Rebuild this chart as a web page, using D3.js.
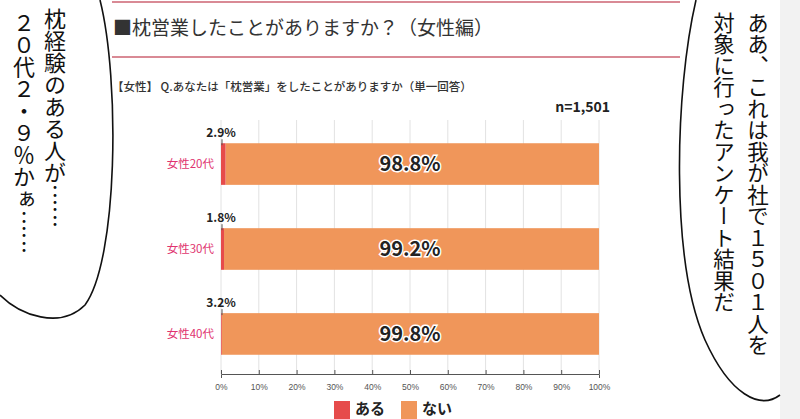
<!DOCTYPE html>
<html><head><meta charset="utf-8">
<script src="https://cdn.jsdelivr.net/npm/d3@7"></script>
<style>body{margin:0;background:#fff}svg{display:block;font-family:"Noto Sans CJK JP","Noto Sans",sans-serif}</style>
</head><body><svg id="c" width="800" height="419"></svg>
<script>
const categories = ["女性20代","女性30代","女性40代"];
const aruValues = [1.2, 0.8, 0.2];
const naiValues = [98.8, 99.2, 99.8];
const aruLabels = ["2.9%","1.8%","3.2%"];
const naiLabels = ["98.8%","99.2%","99.8%"];
const tickValues = [0,10,20,30,40,50,60,70,80,90,100];
const legendLabels = ["ある","ない"];

const svg = d3.select("#c");
const red = "#e64b4b", orange = "#f0965a", pink = "#e0346f";

svg.append("rect").attr("x",780).attr("y",0).attr("width",20).attr("height",419).attr("fill","#f2f2f2");

svg.append("line").attr("x1",112).attr("x2",680).attr("y1",2).attr("y2",2).attr("stroke","#d98a95").attr("stroke-width",2);
svg.append("line").attr("x1",112).attr("x2",680).attr("y1",57).attr("y2",57).attr("stroke","#d98a95").attr("stroke-width",2);
svg.append("text").attr("x",113).attr("y",35).attr("font-size",19).attr("fill","#333").text("■枕営業したことがありますか？（女性編）");
svg.append("text").attr("x",112).attr("y",91).attr("font-size",11.5).attr("font-weight","500").attr("fill","#333").text("【女性】 Q.あなたは「枕営業」をしたことがありますか（単一回答）");
svg.append("text").attr("x",610).attr("y",112).attr("text-anchor","end").attr("font-size",14).attr("font-weight","bold").attr("fill","#222").text("n=1,501");

const x = d3.scaleLinear().domain([0,100]).range([221,599]);
const y = d3.scaleBand().domain(categories).range([122,376]).paddingInner(0.51).paddingOuter(0.25);

svg.append("g").selectAll("line").data(tickValues).join("line")
  .attr("x1",d=>x(d)).attr("x2",d=>x(d)).attr("y1",120).attr("y2",374)
  .attr("stroke","#e2e2e2");

const data = categories.map((c,i)=>({c,a:aruValues[i],n:naiValues[i],al:aruLabels[i],nl:naiLabels[i]}));
const g = svg.append("g");
g.selectAll(".n").data(data).join("rect").attr("x",d=>x(d.a)).attr("width",d=>x(d.a+d.n)-x(d.a))
  .attr("y",d=>y(d.c)).attr("height",y.bandwidth()).attr("fill",orange);
g.selectAll(".a").data(data).join("rect").attr("x",x(0)).attr("width",d=>x(d.a)-x(0))
  .attr("y",d=>y(d.c)).attr("height",y.bandwidth()).attr("fill",red);
g.selectAll(".al").data(data).join("text").attr("x",x(0)).attr("y",d=>y(d.c)-6).attr("text-anchor","middle")
  .attr("font-size",12).attr("font-weight","bold").attr("fill","#222").text(d=>d.al);
g.selectAll(".ald").data(data).join("line").attr("x1",x(0)+1).attr("x2",x(0)+1).attr("y1",d=>y(d.c)-4).attr("y2",d=>y(d.c)+2).attr("stroke","#555");
g.selectAll(".nl").data(data).join("text").attr("x",x(50)).attr("y",d=>y(d.c)+y.bandwidth()/2+7).attr("text-anchor","middle")
  .attr("font-size",20).attr("font-weight","bold").attr("fill","#222").attr("stroke","#fff").attr("stroke-width",3).attr("paint-order","stroke").text(d=>d.nl);
g.selectAll(".cl").data(data).join("text").attr("x",214).attr("y",d=>y(d.c)+y.bandwidth()/2+4).attr("text-anchor","end")
  .attr("font-size",11.5).attr("fill",pink).text(d=>d.c);

const ax = svg.append("g").attr("transform","translate(0,374)")
  .call(d3.axisBottom(x).tickValues(tickValues).tickFormat(d=>d+"%").tickSize(4));
ax.select(".domain").attr("stroke","#555");
ax.selectAll(".tick line").attr("stroke","#555").attr("transform","translate(0,-4)");
ax.selectAll("text").attr("font-size",8.5).attr("fill","#555").attr("dy","1.1em");

const lg = svg.append("g");
[[red,334],[orange,401]].forEach(([col,lx],i)=>{
  lg.append("rect").attr("x",lx).attr("y",401).attr("width",16).attr("height",18).attr("fill",col);
  lg.append("text").attr("x",lx+21).attr("y",414).attr("font-size",15).attr("font-weight","bold").attr("fill","#222").text(legendLabels[i]);
});

svg.append("path").attr("d","M100,0 C120,80 118,260 85,305 C60,330 20,315 0,295").attr("fill","none").attr("stroke","#111").attr("stroke-width",1.6);
svg.append("path").attr("d","M696,0 C675,90 670,260 705,340 C730,395 760,410 780,395").attr("fill","none").attr("stroke","#111").attr("stroke-width",1.6);

function vtext(t,cx,top,fs){
  svg.append("text").attr("x",cx).attr("y",top).attr("font-size",fs).attr("fill","#111")
   .attr("style","writing-mode:vertical-rl;text-orientation:upright").attr("text-anchor","start").text(t);
}
vtext("枕経験のある人が……",55,8,22);
vtext("２０代２・９％かぁ……",24,12,22);
vtext("ああ、これは我が社で１５０１人を",758,12,21.5);
vtext("対象に行ったアンケート結果だ",724,12,21.5);
</script></body></html>
